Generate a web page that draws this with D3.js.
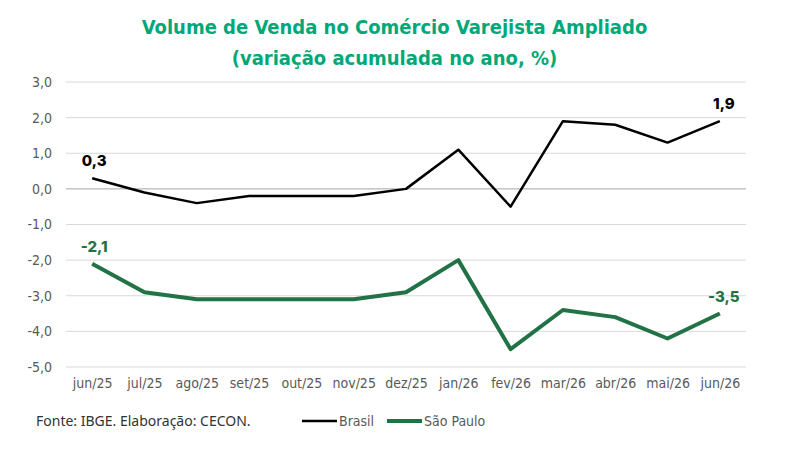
<!DOCTYPE html>
<html>
<head>
<meta charset="utf-8">
<script src="https://cdn.jsdelivr.net/npm/d3@7"></script>
<style>
  body { margin: 0; background: #fff; }
  svg { display: block; }
</style>
</head>
<body>
<div id="chart"></div>
<script>
const months = ["jun/25", "jul/25", "ago/25", "set/25", "out/25", "nov/25", "dez/25",
  "jan/26", "fev/26", "mar/26", "abr/26", "mai/26", "jun/26"];
const brasil = [0.3, -0.1, -0.4, -0.2, -0.2, -0.2, 0.0, 1.1, -0.5, 1.9, 1.8, 1.3, 1.9];
const saoPaulo = [-2.1, -2.9, -3.1, -3.1, -3.1, -3.1, -2.9, -2.0, -4.5, -3.4, -3.6, -4.2, -3.5];
const yTicks = [3, 2, 1, 0, -1, -2, -3, -4, -5];

const W = 789, H = 451;
const margin = { top: 82, right: 43, bottom: 84, left: 66 };
const width = W - margin.left - margin.right;
const height = H - margin.top - margin.bottom;

const fmt = (v) => v.toFixed(1).replace(".", ",");
const axisFont = "'Liberation Sans Narrow', 'DejaVu Sans Condensed', Arial, sans-serif";

const svg = d3.select("#chart").append("svg")
  .attr("width", W).attr("height", H);

// title
const title = svg.append("text")
  .attr("x", W / 2).attr("text-anchor", "middle")
  .style("font-family", "'DejaVu Sans Condensed', sans-serif")
  .style("font-weight", "bold").style("font-size", "20px")
  .attr("fill", "#00a878");
title.append("tspan").attr("x", W / 2).attr("y", 34).text("Volume de Venda no Comércio Varejista Ampliado");
title.append("tspan").attr("x", W / 2).attr("y", 65).text("(variação acumulada no ano, %)");

const g = svg.append("g").attr("transform", `translate(${margin.left},${margin.top})`);

const x = d3.scalePoint().domain(months).range([0, width]).padding(0.5);
const y = d3.scaleLinear().domain([-5, 3]).range([height, 0]);

// gridlines
g.selectAll(".grid").data(yTicks).enter().append("line")
  .attr("x1", 0).attr("x2", width)
  .attr("y1", (d) => y(d)).attr("y2", (d) => y(d))
  .attr("stroke", (d) => (d === 0 ? "#a6a6a6" : "#d9d9d9"))
  .attr("stroke-width", 1);

// y axis labels
const yAxis = g.append("g")
  .call(d3.axisLeft(y).tickValues(yTicks).tickFormat(fmt).tickSize(0).tickPadding(14));
yAxis.select(".domain").remove();
yAxis.selectAll("text").style("font-family", axisFont).style("font-size", "14px").attr("fill", "#595959");

// x axis labels
const xAxis = g.append("g").attr("transform", `translate(0,${height})`)
  .call(d3.axisBottom(x).tickSize(0).tickPadding(11));
xAxis.select(".domain").remove();
xAxis.selectAll("text").style("font-family", axisFont).style("font-size", "14px").attr("fill", "#595959");

const line = d3.line().x((d, i) => x(months[i])).y((d) => y(d));

const series = [
  { name: "Brasil", values: brasil, color: "#000000", width: 2.5 },
  { name: "São Paulo", values: saoPaulo, color: "#217346", width: 4 },
];

series.forEach((s) => {
  g.append("path").datum(s.values)
    .attr("fill", "none").attr("stroke", s.color)
    .attr("stroke-width", s.width).attr("stroke-linejoin", "round")
    .attr("d", line);

  const ends = [0, s.values.length - 1];
  g.selectAll(null).data(ends).enter().append("text")
    .attr("x", (i) => x(months[i]) + (i === 0 ? 2 : 4))
    .attr("y", (i) => y(s.values[i]) - 12)
    .attr("text-anchor", "middle")
    .style("font-family", "Inter, 'Noto Sans', sans-serif")
    .style("font-weight", "800").style("font-size", "15px")
    .attr("fill", s.color)
    .text((i) => fmt(s.values[i]));
});

// footer
svg.append("text").attr("x", 36).attr("y", 426)
  .style("font-family", "'Noto Sans', sans-serif").style("font-size", "14px")
  .attr("fill", "#333333")
  .text("Fonte: IBGE. Elaboração: CECON.");

// legend
const legendX = [302, 387];
series.forEach((s, i) => {
  const lg = svg.append("g").attr("transform", `translate(${legendX[i]},421)`);
  lg.append("line").attr("x1", 0).attr("x2", 35).attr("y1", 0).attr("y2", 0)
    .attr("stroke", s.color).attr("stroke-width", s.width);
  lg.append("text").attr("x", 37).attr("y", 5)
    .style("font-family", axisFont).style("font-size", "14px")
    .attr("fill", "#595959").text(s.name);
});
</script>
</body>
</html>
